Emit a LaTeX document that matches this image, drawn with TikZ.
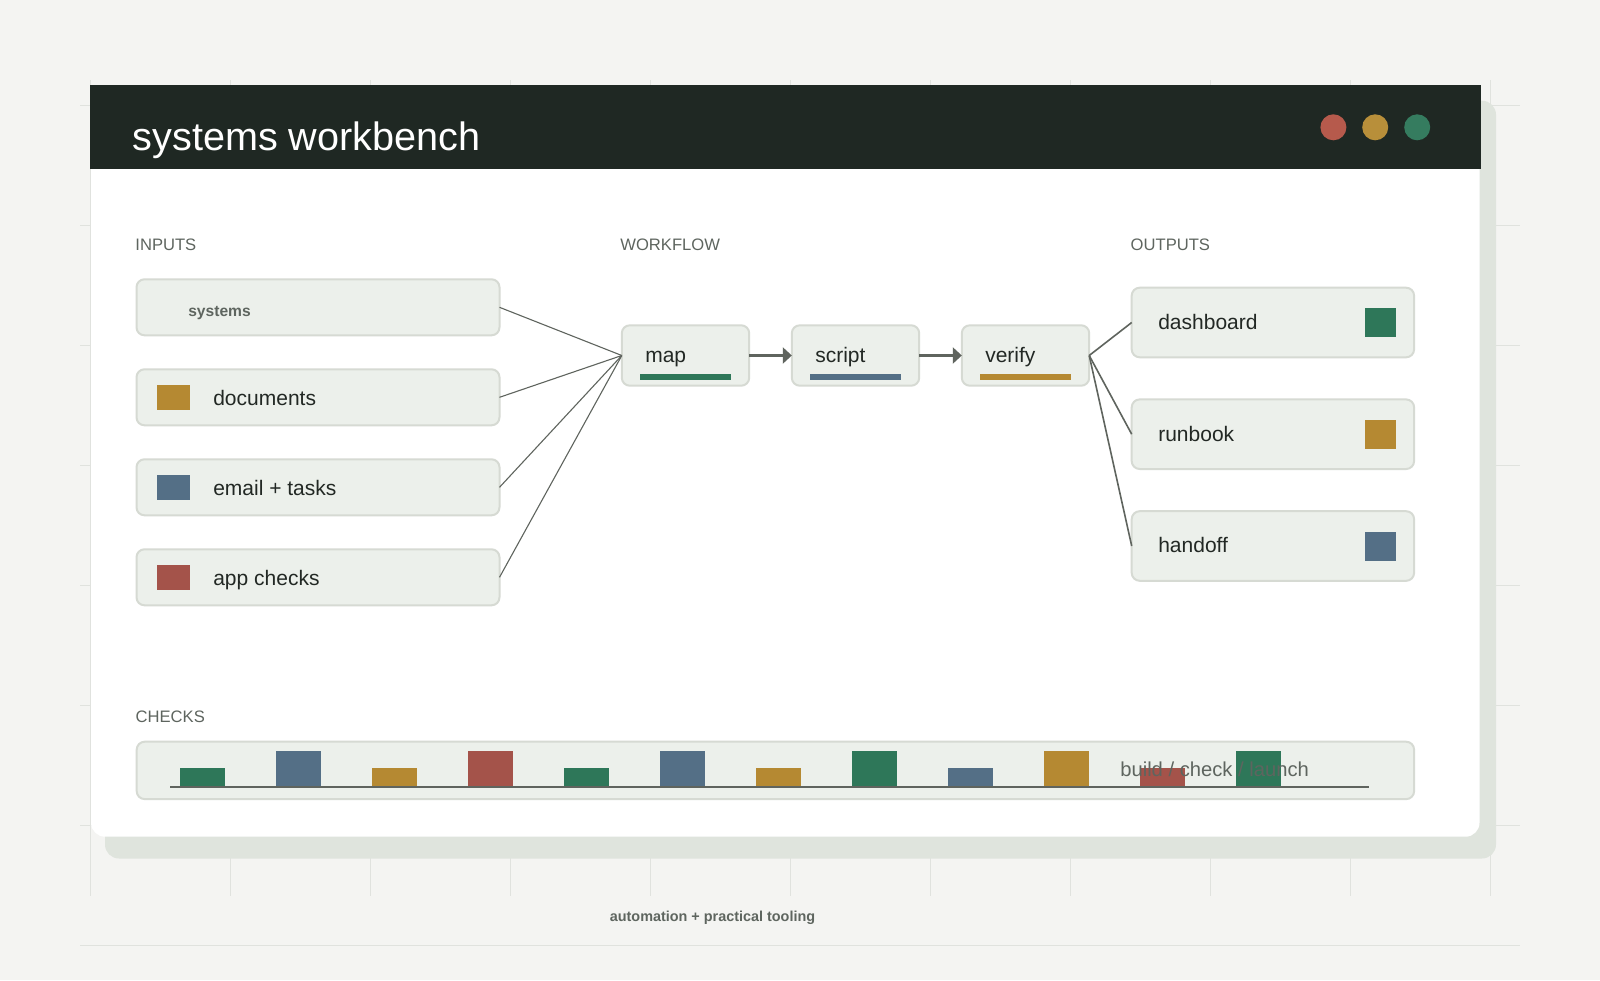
\documentclass[tikz,border=0pt]{standalone}
\usepackage{fontspec}
\setmainfont{Liberation Sans}
\usepackage{tikz}
\usetikzlibrary{arrows.meta,positioning,calc}
\usepackage{xcolor}
\definecolor{pagebg}{HTML}{F4F4F2}
\definecolor{gridgray}{HTML}{E0E2DE}
\definecolor{headbg}{HTML}{1F2823}
\definecolor{cardshade}{HTML}{DFE4DD}
\definecolor{boxfill}{HTML}{ECF0EB}
\definecolor{boxline}{HTML}{D6DAD3}
\definecolor{inktext}{HTML}{222824}
\definecolor{labelgray}{HTML}{5E655F}
\definecolor{linegray}{HTML}{5F645E}
\definecolor{cgreen}{HTML}{2E7759}
\definecolor{cblue}{HTML}{546F86}
\definecolor{cgold}{HTML}{B58932}
\definecolor{cred}{HTML}{A4534A}
\definecolor{dotred}{HTML}{B65A4C}
\definecolor{dotgold}{HTML}{B88F3A}
\definecolor{dotgreen}{HTML}{357C5F}

\begin{document}
\begin{tikzpicture}[x=0.5pt,y=-0.5pt,>={Triangle[length=4.5pt,width=8pt]},
    every node/.style={inner sep=0pt,outer sep=0pt},
    sect/.style={anchor=base west,font=\fontsize{8.3pt}{10pt}\selectfont,text=labelgray},
    lbl/.style={anchor=base west,font=\fontsize{10.5pt}{12pt}\selectfont,text=inktext},
    card/.style={draw=boxline,line width=1pt,fill=boxfill,rounded corners=4pt},
    inbox/.style={card,minimum width=181.5pt,minimum height=28pt},
    wfbox/.style={card,minimum width=63.7pt,minimum height=30.2pt},
    outbox/.style={card,minimum width=141.2pt,minimum height=34.8pt},
    swatch/.style={fill=#1,minimum width=16.5pt,minimum height=12.5pt},
    dot/.style={circle,fill=#1,minimum size=13pt},
    link/.style={draw=linegray,line width=0.55pt},
    outlink/.style={draw=linegray,line width=0.8pt},
    flow/.style={->,draw=linegray,line width=1.5pt}]
    \def\rowx{318}\def\outx{1272.9}\def\wfy{355.5}
    % page and grid
    \fill[pagebg] (0,0) rectangle (1600,980);
    \useasboundingbox (0,0) rectangle (1600,980);
    \foreach \gx in {90,230,...,1490} \draw[gridgray,line width=0.5pt] (\gx,80) -- (\gx,896);
    \foreach \gy in {105,225,...,945} \draw[gridgray,line width=0.5pt] (80,\gy) -- (1520,\gy);
    % window
    \fill[cardshade,rounded corners=7pt] (105,100.7) rectangle (1496,858.5);
    \fill[white,rounded corners=7pt] (91,85) rectangle (1479.5,836.7);
    \fill[headbg] (89.5,85) rectangle (1481,168.7);
    \node[anchor=base west,font=\fontsize{19.8pt}{24pt}\selectfont,text=white] (title) at (132.7,150) {systems workbench};
    \node[dot=dotred] (dot1) at (1333.4,127.3) {};
    \node[dot=dotgold] (dot2) at (1375.2,127.3) {};
    \node[dot=dotgreen] (dot3) at (1417.2,127.3) {};
    % column heads
    \node[sect] (inputs) at (135.4,250) {INPUTS};
    \node[sect] (workflow) at (620.4,250) {WORKFLOW};
    \node[sect] (outputs) at (1130.7,250) {OUTPUTS};
    % workflow
    \foreach \name/\xc/\col in {map/685.5/cgreen, script/855.5/cblue, verify/1025.5/cgold} {
      \node[wfbox] (\name) at (\xc,\wfy) {};
      \node[lbl] (\name txt) at (\xc-40.2,362.7) {\name};
      \fill[\col] (\xc-45.5,374.3) rectangle ++(91,5.7);
    }
    \draw[flow] (map) -- (script);
    \draw[flow] (script) -- (verify);
    % inputs
    \node[inbox] (in0) at (\rowx,307.3) {};
    \node[anchor=base west,font=\bfseries\fontsize{7.8pt}{9pt}\selectfont,text=labelgray] (in0txt) at (188.3,316) {systems};
    \draw[link] (in0.east) -- (map.west);
    \foreach \yc/\col/\txt [count=\i] in {397.3/cgold/documents, 487.3/cblue/email + tasks, 577.3/cred/app checks} {
      \node[inbox] (in\i) at (\rowx,\yc) {};
      \node[swatch=\col] (sw\i) at (173.3,\yc) {};
      \node[lbl] (in\i txt) at (213.3,\yc+7.7) {\txt};
      \draw[link] (in\i.east) -- (map.west);
    }
    % outputs
    \foreach \name/\yc/\col in {dashboard/322.5/cgreen, runbook/434.2/cgold, handoff/546/cblue} {
      \node[outbox] (\name) at (\outx,\yc) {};
      \node[lbl] (\name txt) at (1158.3,\yc+6.8) {\name};
      \node[swatch=\col,minimum width=15.5pt,minimum height=14.5pt] (\name sw) at (1380.5,\yc) {};
      \draw[outlink] (verify.east) -- (\name.west);
    }
    % checks strip
    \node[sect] (checks) at (135.7,722.7) {CHECKS};
    \node[card,minimum width=638.7pt,minimum height=28.7pt] (checkbox) at (775.4,770.4) {};
    \foreach \col/\h [count=\i from 0] in {cgreen/18, cblue/35, cgold/18, cred/35, cgreen/18, cblue/35, cgold/18, cgreen/35, cblue/18, cgold/35, cred/18, cgreen/35}
      \fill[\col] (180+96*\i,786) rectangle ++(45,-\h);
    \coordinate (axisl) at (170,786.7);
    \coordinate (axisr) at (1369,786.7);
    \draw[linegray,line width=1pt] (axisl) -- (axisr);
    \node[anchor=base west,font=\fontsize{10.1pt}{12pt}\selectfont,text=labelgray] (stages) at (1120.3,776.7) {build / check / launch};
    % footer
    \node[anchor=base,font=\bfseries\fontsize{7.2pt}{9pt}\selectfont,text=labelgray] (footer) at (712.5,921.7) {automation + practical tooling};
  \end{tikzpicture}
\end{document}
